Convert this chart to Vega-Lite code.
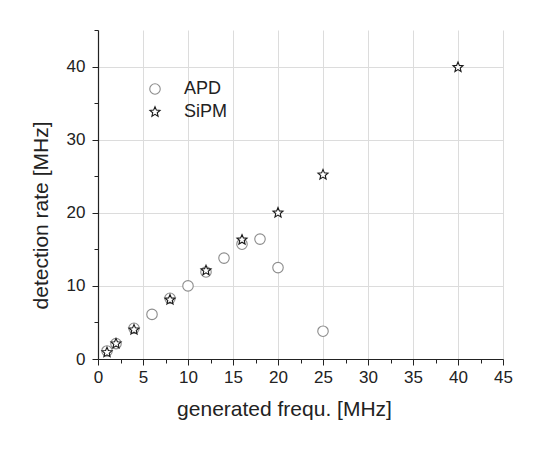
{
  "$schema": "https://vega.github.io/schema/vega-lite/v6.json",
  "width": 405,
  "height": 329,
  "autosize": "none",
  "padding": {"left": 98, "top": 30, "right": 42, "bottom": 102},
  "background": "white",
  "config": {
    "view": {"stroke": null},
    "font": "Liberation Sans",
    "axis": {"labelFont": "Liberation Sans", "titleFont": "Liberation Sans", "labelColor": "#222", "titleColor": "#222", "titleFontWeight": "normal", "labelFlush": false}
  },
  "data": {"values": [
    {"f": 1, "r": 1.1, "s": "APD"},
    {"f": 2, "r": 2.1, "s": "APD"},
    {"f": 4, "r": 4.2, "s": "APD"},
    {"f": 6, "r": 6.1, "s": "APD"},
    {"f": 8, "r": 8.3, "s": "APD"},
    {"f": 10, "r": 10.0, "s": "APD"},
    {"f": 12, "r": 11.9, "s": "APD"},
    {"f": 14, "r": 13.8, "s": "APD"},
    {"f": 16, "r": 15.7, "s": "APD"},
    {"f": 18, "r": 16.4, "s": "APD"},
    {"f": 20, "r": 12.5, "s": "APD"},
    {"f": 25, "r": 3.8, "s": "APD"},
    {"f": 1, "r": 0.9, "s": "SiPM"},
    {"f": 2, "r": 2.1, "s": "SiPM"},
    {"f": 4, "r": 4.0, "s": "SiPM"},
    {"f": 8, "r": 8.1, "s": "SiPM"},
    {"f": 12, "r": 12.1, "s": "SiPM"},
    {"f": 16, "r": 16.3, "s": "SiPM"},
    {"f": 20, "r": 20.0, "s": "SiPM"},
    {"f": 25, "r": 25.2, "s": "SiPM"},
    {"f": 40, "r": 39.9, "s": "SiPM"}
  ]},
  "layer": [
    {
      "mark": {"type": "point", "opacity": 0},
      "encoding": {
        "x": {"field": "f", "type": "quantitative", "scale": {"domain": [0, 45], "nice": false, "zero": false},
          "axis": {"orient": "bottom", "values": [2.5, 7.5, 12.5, 17.5, 22.5, 27.5, 32.5, 37.5, 42.5], "labels": false, "grid": false, "domain": false, "ticks": true, "tickSize": 4, "tickWidth": 1, "tickColor": "#222", "title": null}},
        "y": {"field": "r", "type": "quantitative", "scale": {"domain": [0, 45], "nice": false, "zero": false},
          "axis": {"orient": "left", "values": [5, 15, 25, 35, 45], "labels": false, "grid": false, "domain": false, "ticks": true, "tickSize": 4, "tickWidth": 1, "tickColor": "#222", "title": null}}
      }
    },
    {
      "mark": {"type": "point", "fill": "white", "filled": false, "strokeWidth": 1.1, "size": 110, "opacity": 1},
      "encoding": {
        "x": {"field": "f", "type": "quantitative", "scale": {"domain": [0, 45], "nice": false, "zero": false},
          "axis": {"orient": "bottom", "values": [0, 5, 10, 15, 20, 25, 30, 35, 40, 45], "grid": true, "gridColor": "#dcdcdc", "gridWidth": 1, "domainColor": "#222", "domainWidth": 1.2, "tickColor": "#222", "tickWidth": 1, "tickSize": 6, "labelFontSize": 17, "labelPadding": 4, "title": "generated frequ. [MHz]", "titleFontSize": 21, "titlePadding": 13, "titleX": 186}},
        "y": {"field": "r", "type": "quantitative", "scale": {"domain": [0, 45], "nice": false, "zero": false},
          "axis": {"orient": "left", "values": [0, 10, 20, 30, 40], "grid": true, "gridColor": "#dcdcdc", "gridWidth": 1, "domainColor": "#222", "domainWidth": 1.2, "tickColor": "#222", "tickWidth": 1, "tickSize": 6, "labelFontSize": 17, "labelPadding": 7, "title": "detection rate [MHz]", "titleFontSize": 21, "titlePadding": 15, "titleY": 185}},
        "shape": {"field": "s", "type": "nominal", "scale": {"domain": ["APD", "SiPM"], "range": ["circle", "M0,-1L0.2645,-0.364L0.951,-0.309L0.428,0.139L0.588,0.809L0,0.45L-0.588,0.809L-0.428,0.139L-0.951,-0.309L-0.2645,-0.364Z"]},
          "legend": {"orient": "none", "legendX": 48, "legendY": 50, "title": null, "labelFontSize": 18, "labelColor": "#222", "labelOffset": 20, "rowPadding": 5, "symbolSize": 110, "symbolFillColor": "white", "symbolStrokeWidth": 1.1}},
        "stroke": {"field": "s", "type": "nominal", "scale": {"domain": ["APD", "SiPM"], "range": ["#8c8c8c", "#1a1a1a"]}}
      }
    }
  ],
  "resolve": {"axis": {"x": "independent", "y": "independent"}}
}
